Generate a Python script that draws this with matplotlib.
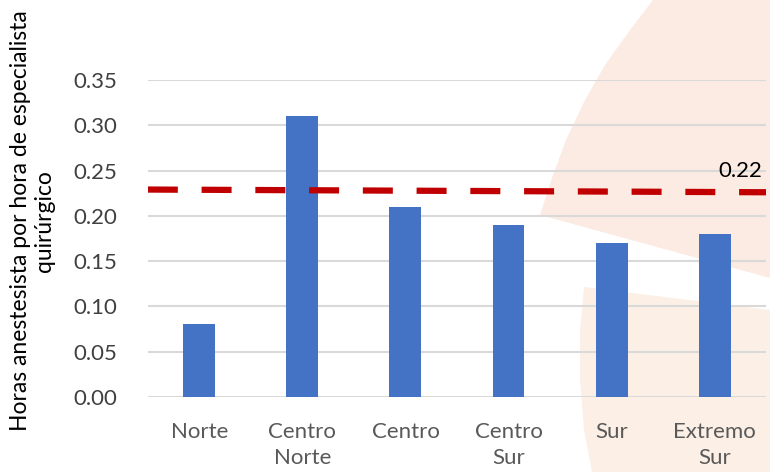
import matplotlib.pyplot as plt
from matplotlib.patches import Polygon

# datos
zonas = ["Norte", "Centro\nNorte", "Centro", "Centro\nSur", "Sur", "Extremo\nSur"]
horas = [0.08, 0.31, 0.21, 0.19, 0.17, 0.18]
promedio_x = [-0.5, 5.5]
promedio_y = [0.229, 0.226]
promedio_txt = "0.22"
yticks = [0.00, 0.05, 0.10, 0.15, 0.20, 0.25, 0.30, 0.35]

plt.rcParams['font.family'] = ['Lato', 'DejaVu Sans']

fig = plt.figure(figsize=(7.7, 4.72), dpi=100)

# formas decorativas del fondo (diapositiva)
def px(pts):
    return [(x / 770, 1 - y / 472) for x, y in pts]

arriba = px([(653, 0), (630, 30), (605, 65), (585, 100), (566, 140), (552, 178),
             (540, 215), (770, 278), (770, 0)])
abajo = px([(584, 287), (770, 310), (770, 472), (592, 472), (584, 430),
            (580, 380), (580, 330)])
fig.patches.append(Polygon(arriba, closed=True, transform=fig.transFigure,
                           facecolor='#FCEBE3', edgecolor='none', zorder=-5))
fig.patches.append(Polygon(abajo, closed=True, transform=fig.transFigure,
                           facecolor='#FCF0E6', edgecolor='none', zorder=-5))

ax = fig.add_axes([0.192, 0.159, 0.803, 0.6716])
ax.set_zorder(1)
ax.patch.set_alpha(0)

x = list(range(len(zonas)))
ax.bar(x, horas, width=0.31, color='#4472C4', zorder=2)

# linea de referencia
ax.plot(promedio_x, promedio_y, color='#C00000', lw=4.5,
        dashes=(4.8, 3.8), zorder=3, solid_capstyle='butt', dash_capstyle='butt')
ax.text(5.25, 0.249, promedio_txt, fontsize=16, color='black',
        ha='center', va='center')

ax.set_xlim(-0.5, 5.5)
ax.set_ylim(0, 0.35)
ax.set_yticks(yticks)
ax.set_yticklabels([f"{v:.2f}" for v in yticks], fontsize=16, color='#404040')
ax.set_xticks(x)
ax.set_xticklabels(zonas, fontsize=16, color='#595959', linespacing=1.4)
ax.tick_params(axis='both', length=0)
ax.tick_params(axis='y', pad=22)
ax.tick_params(axis='x', pad=18)

ax.grid(axis='y', color='#D9D9D9', lw=1.5, zorder=1)
ax.set_axisbelow(True)
for s in ax.spines.values():
    s.set_visible(False)

fig.text(0.042, 0.532, "Horas anestesista por hora de especialista\nquirúrgico",
         rotation=90, ha='center', va='center', fontsize=16.5, color='black',
         multialignment='center', linespacing=1.15)

fig.savefig("out.png", dpi=100)
